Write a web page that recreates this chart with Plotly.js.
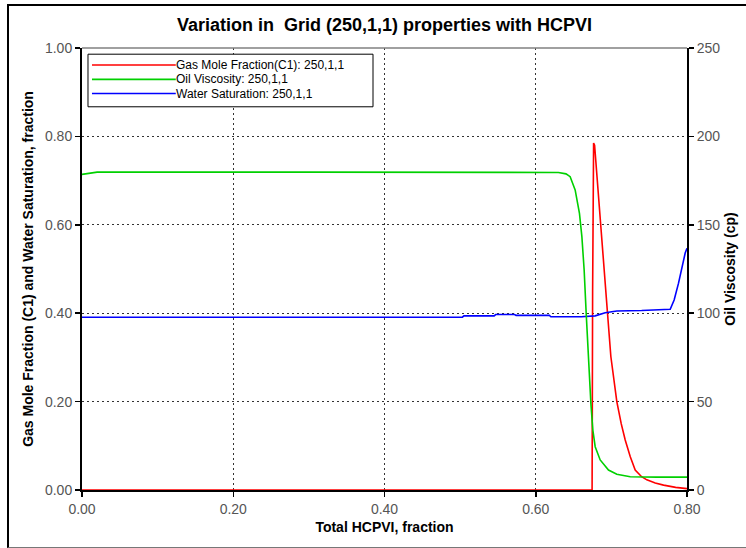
<!DOCTYPE html>
<html>
<head>
<meta charset="utf-8">
<script src="https://cdn.plot.ly/plotly-3.0.1.min.js"></script>
<style>
  html, body { margin: 0; padding: 0; background: #fff; }
  #wrap { position: relative; width: 746px; height: 548px; overflow: hidden; }
  #chart { position: absolute; left: 0; top: 0; width: 746px; height: 548px; }
  #frame { position: absolute; left: 7px; top: 4px; width: 742px; height: 541px;
           border-left: 2px solid #000; border-top: 2px solid #000; border-bottom: 1px solid #777;
           pointer-events: none; }
</style>
</head>
<body>
<div id="wrap">
  <div id="chart"></div>
  <div id="frame"></div>
</div>
<script>
// ---- Data ----
const seriesNames = [
  "Gas Mole Fraction(C1): 250,1,1",
  "Oil Viscosity: 250,1,1",
  "Water Saturation: 250,1,1"
];

// Gas mole fraction (C1), fraction
const gasX = [0.000, 0.6745, 0.6752, 0.6765, 0.6778, 0.6800, 0.6852, 0.6900, 0.6949, 0.6993, 0.7072, 0.7130, 0.7183, 0.7250, 0.7315, 0.7400, 0.7469, 0.7580, 0.7690, 0.7850, 0.8000];
const gasY = [0.000, 0.000,  0.450,  0.785,  0.780,  0.730,  0.600,  0.490,  0.400,  0.302,  0.200,  0.150,  0.113,  0.075,  0.045,  0.030,  0.023,  0.016,  0.011,  0.006,  0.003];

// Oil viscosity, cp
const oilX = [0.000, 0.010, 0.020, 0.300, 0.600, 0.630, 0.6400, 0.6455, 0.6521, 0.6578, 0.6610, 0.6640, 0.6667, 0.6698, 0.6729, 0.6755, 0.6786, 0.6852, 0.6962, 0.7072, 0.7249, 0.7600, 0.8000];
const oilY = [178.5, 179.3, 179.8, 179.8, 179.8, 179.6, 178.8,  177.2,  169.7,  156.5,  143.3,  124.4,  99.9,   71.7,   49.0,   33.9,   24.5,   17.0,   11.3,   8.9,    7.5,    7.3,    7.3];

// Water saturation, fraction
const watX = [0.000, 0.200, 0.400, 0.503, 0.505, 0.545, 0.547, 0.572, 0.574, 0.618, 0.620, 0.660, 0.6786, 0.6918, 0.7072, 0.7400, 0.7778, 0.7830, 0.7888, 0.7940, 0.7976, 0.8000];
const watY = [0.391, 0.391, 0.391, 0.391, 0.394, 0.394, 0.397, 0.397, 0.395, 0.395, 0.392, 0.392, 0.394,  0.401,  0.405,  0.406,  0.409,  0.430,  0.468,  0.513,  0.536,  0.547];

// Tick settings
const xTickVals = [0, 0.2, 0.4, 0.6, 0.8];
const yTickVals = [0, 0.2, 0.4, 0.6, 0.8, 1.0];
const y2TickVals = [0, 50, 100, 150, 200, 250];

const colors = ["#ff0000", "#00d000", "#0000ff"];

const traces = [
  { x: gasX, y: gasY, name: seriesNames[0], type: "scatter", mode: "lines",
    line: { color: colors[0], width: 1.6 }, yaxis: "y" },
  { x: watX, y: watY, name: seriesNames[2], type: "scatter", mode: "lines",
    line: { color: colors[2], width: 1.6 }, yaxis: "y" },
  { x: oilX, y: oilY, name: seriesNames[1], type: "scatter", mode: "lines",
    line: { color: colors[1], width: 1.6 }, yaxis: "y2" }
];

const FONT = "Liberation Sans, Arial, sans-serif";
const tickFont = { family: FONT, size: 14, color: "#555" };
const titleFont = { family: FONT, size: 14, color: "#000", weight: "bold" };

// Custom legend (paper coordinates)
const legBox = { x0: 0.0099, x1: 0.481, y0: 0.867, y1: 0.986 };
const legRowsY = [0.9615, 0.929, 0.897];
const legOrder = [0, 1, 2];
const shapes = [
  { type: "rect", xref: "paper", yref: "paper", x0: legBox.x0, x1: legBox.x1, y0: legBox.y0, y1: legBox.y1,
    line: { color: "#000", width: 1 }, fillcolor: "#fff", layer: "above" },
  // top border of plot (grey)
  { type: "line", xref: "paper", yref: "paper", x0: 0, x1: 1, y0: 1, y1: 1,
    line: { color: "#808080", width: 1.5 }, layer: "above" }
];
const annotations = [];
legOrder.forEach((k, i) => {
  shapes.push({ type: "line", xref: "paper", yref: "paper", x0: 0.0165, x1: 0.155,
    y0: legRowsY[i], y1: legRowsY[i], line: { color: colors[k], width: 1.6 }, layer: "above" });
  annotations.push({ xref: "paper", yref: "paper", x: 0.156, y: legRowsY[i], xanchor: "left", yanchor: "middle",
    text: seriesNames[k], showarrow: false, borderpad: 0, borderwidth: 0,
    font: { family: FONT, size: 12, color: "#000" } });
});

const layout = {
  width: 746, height: 548,
  margin: { l: 82, r: 59, t: 48, b: 58, pad: 0 },
  paper_bgcolor: "rgba(0,0,0,0)", plot_bgcolor: "#fff",
  showlegend: false,
  title: { text: "Variation in \u00a0Grid (250,1,1) properties with HCPVI",
    x: 0.5, xref: "paper", xanchor: "center", y: 1 - 25/548, yanchor: "middle",
    font: { family: FONT, size: 18, color: "#000", weight: "bold" } },
  xaxis: {
    range: [0, 0.8], tickvals: xTickVals, tickformat: ".2f",
    ticks: "outside", ticklen: 5, tickwidth: 1.5, tickcolor: "#000",
    showline: true, linecolor: "#000", linewidth: 2, zeroline: false,
    showgrid: true, gridcolor: "#333", gridwidth: 1, griddash: "2px,3px",
    tickfont: tickFont,
    title: { text: "Total HCPVI, fraction", font: titleFont, standoff: 6 }
  },
  yaxis: {
    range: [0, 1], tickvals: yTickVals, tickformat: ".2f",
    ticks: "outside", ticklen: 5, tickwidth: 1.5, tickcolor: "#000",
    showline: true, linecolor: "#000", linewidth: 2, zeroline: false,
    showgrid: true, gridcolor: "#333", gridwidth: 1, griddash: "2px,3px",
    tickfont: tickFont,
    title: { text: "Gas Mole Fraction (C1) and Water Saturation, fraction", font: titleFont, standoff: 8 }
  },
  yaxis2: {
    range: [0, 250], tickvals: y2TickVals, overlaying: "y", side: "right",
    ticks: "outside", ticklen: 5, tickwidth: 1.5, tickcolor: "#000",
    showline: true, linecolor: "#000", linewidth: 2, zeroline: false,
    showgrid: false, tickfont: tickFont,
    title: { text: "Oil Viscosity (cp)", font: titleFont, standoff: 6 }
  },
  shapes: shapes,
  annotations: annotations
};

Plotly.newPlot("chart", traces, layout, { displayModeBar: false, staticPlot: true });
</script>
</body>
</html>
